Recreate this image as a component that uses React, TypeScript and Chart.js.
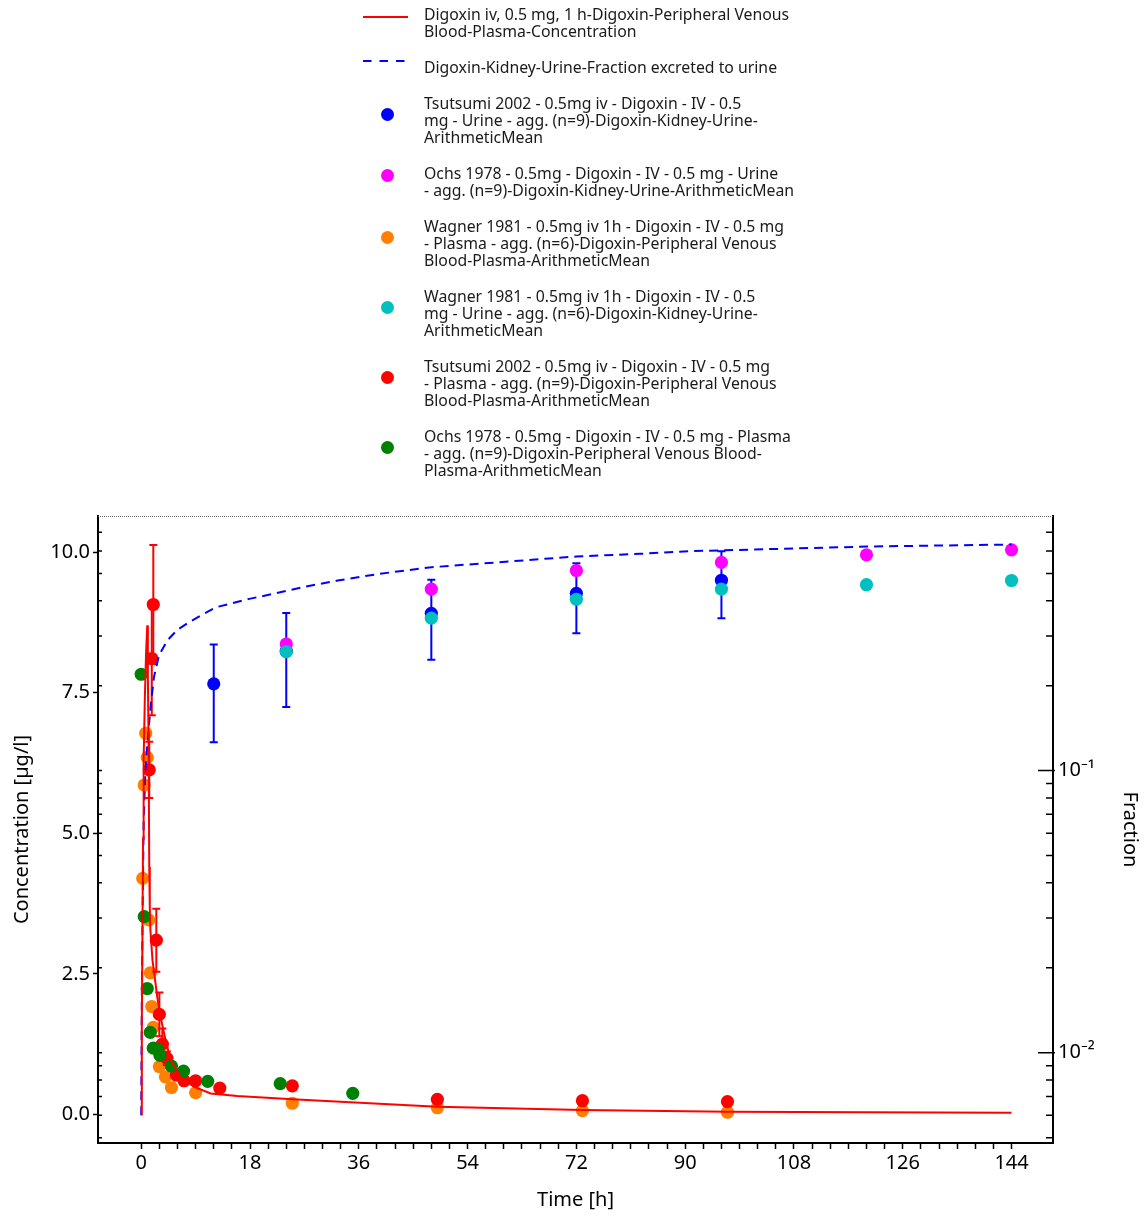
import React, { useEffect, useRef } from 'react';
import { Chart, registerables } from 'chart.js';

Chart.register(...registerables);

// ---------- axis ticks ----------
const X_TICKS = [0, 3, 6, 9, 12, 15, 18, 21, 24, 27, 30, 33, 36, 39, 42, 45, 48, 51, 54, 57, 60, 63, 66, 69, 72, 75, 78, 81, 84, 87, 90, 93, 96, 99, 102, 105, 108, 111, 114, 117, 120, 123, 126, 129, 132, 135, 138, 141, 144];
const X_LABELS = [0, 18, 36, 54, 72, 90, 108, 126, 144];
const CONC_TICKS = [0, 2.5, 5, 7.5, 10];
const FRACTION_TICKS = [0.005, 0.006, 0.007, 0.008, 0.009, 0.01, 0.02, 0.03, 0.04, 0.05, 0.06, 0.07, 0.08, 0.09, 0.1, 0.2, 0.3, 0.4, 0.5, 0.6, 0.7];
const FRACTION_MAJOR = [0.01, 0.1];
const FRACTION_LABELS = ['10⁻²', '10⁻¹'];

// ---------- simulations ----------
const SIM_PLASMA_T = [0, 0.1, 0.2, 0.3, 0.4, 0.6, 0.8, 1.0, 1.1, 1.2, 1.27, 1.33, 1.42, 1.52, 1.87, 2.1, 2.65, 3.2, 4.04, 4.87, 6.55, 8.77, 11.5, 15.9, 25, 49, 73, 97, 120, 144];
const SIM_PLASMA_C = [0, 1.6, 3.1, 4.9, 6.3, 7.4, 8.2, 8.7, 7.8, 6.8, 5.6, 4.4, 3.7, 3.28, 2.74, 2.56, 2.09, 1.73, 1.32, 0.97, 0.66, 0.49, 0.375, 0.33, 0.27, 0.139, 0.08, 0.05, 0.04, 0.03];

const SIM_FRACTION_T = [0, 0.1, 0.25, 0.41, 0.71, 1.11, 1.54, 2.1, 2.93, 4.3, 5.97, 7.9, 9.83, 12.4, 17.9, 22.3, 27.3, 32.5, 39.4, 48, 72, 82.5, 90.8, 120, 144];
const SIM_FRACTION_F = [0.006, 0.0153, 0.0346, 0.0665, 0.1027, 0.1312, 0.1677, 0.2142, 0.2557, 0.2891, 0.3155, 0.3357, 0.3545, 0.3795, 0.4063, 0.4253, 0.4493, 0.4719, 0.4983, 0.5259, 0.5741, 0.5868, 0.5994, 0.6227, 0.633];

// ---------- observed ----------
const TSU_URINE_T = [12, 24, 48, 72, 96];
const TSU_URINE_F = [0.203, 0.265, 0.361, 0.425, 0.473];
const TSU_URINE_SD = [0.077, 0.097, 0.114, 0.118, 0.126];

const OCHS_URINE_T = [24, 48, 72, 96, 120, 144];
const OCHS_URINE_F = [0.281, 0.44, 0.512, 0.547, 0.582, 0.606];

const WAG_PLASMA_T = [0.25, 0.5, 0.75, 1, 1.25, 1.5, 1.75, 2, 3, 4, 5, 9, 25, 49, 73, 97];
const WAG_PLASMA_C = [4.2, 5.86, 6.78, 6.35, 3.46, 2.52, 1.92, 1.55, 0.85, 0.67, 0.48, 0.39, 0.2, 0.12, 0.07, 0.04];

const WAG_URINE_T = [24, 48, 72, 96, 120, 144];
const WAG_URINE_F = [0.264, 0.347, 0.405, 0.44, 0.456, 0.472];

const TSU_PLASMA_T = [1.33, 1.75, 2, 2.5, 3, 3.5, 4.25, 5.83, 7.08, 9, 13, 25, 49, 73, 97];
const TSU_PLASMA_C = [6.13, 8.11, 9.07, 3.1, 1.78, 1.25, 1.0, 0.7, 0.6, 0.6, 0.47, 0.51, 0.27, 0.245, 0.23];
const TSU_PLASMA_SD = [0.5, 1.01, 1.06, 0.56, 0.39, 0.28, 0.12, 0.08, 0.06, 0.06, 0.05, 0.05, 0.04, 0.04, 0.04];

const OCHS_PLASMA_T = [0, 0.5, 1, 1.5, 2, 2.75, 3.1, 5, 7, 11, 23, 35];
const OCHS_PLASMA_C = [7.83, 3.52, 2.24, 1.46, 1.18, 1.16, 1.05, 0.86, 0.77, 0.59, 0.55, 0.377];

// ---------- legend ----------
const LEGEND_LABELS = [
  'Digoxin iv, 0.5 mg, 1 h-Digoxin-Peripheral Venous\nBlood-Plasma-Concentration',
  'Digoxin-Kidney-Urine-Fraction excreted to urine',
  'Tsutsumi 2002 - 0.5mg iv - Digoxin - IV - 0.5\nmg - Urine - agg. (n=9)-Digoxin-Kidney-Urine-\nArithmeticMean',
  'Ochs 1978 - 0.5mg - Digoxin - IV - 0.5 mg - Urine\n- agg. (n=9)-Digoxin-Kidney-Urine-ArithmeticMean',
  'Wagner 1981 - 0.5mg iv 1h - Digoxin - IV - 0.5 mg\n- Plasma - agg. (n=6)-Digoxin-Peripheral Venous\nBlood-Plasma-ArithmeticMean',
  'Wagner 1981 - 0.5mg iv 1h - Digoxin - IV - 0.5\nmg - Urine - agg. (n=6)-Digoxin-Kidney-Urine-\nArithmeticMean',
  'Tsutsumi 2002 - 0.5mg iv - Digoxin - IV - 0.5 mg\n- Plasma - agg. (n=9)-Digoxin-Peripheral Venous\nBlood-Plasma-ArithmeticMean',
  'Ochs 1978 - 0.5mg - Digoxin - IV - 0.5 mg - Plasma\n- agg. (n=9)-Digoxin-Peripheral Venous Blood-\nPlasma-ArithmeticMean',
];
const LEGEND_KINDS = ['line', 'dash', 'dot', 'dot', 'dot', 'dot', 'dot', 'dot'];
const COLORS = ['#ff0000', '#0000ff', '#0000ff', '#ff00ff', '#ff8000', '#00bfbf', '#ff0000', '#008000'];

const FONT = "'Noto Sans', sans-serif";

const pts = (xs: number[], ys: number[]) => xs.map((x, i) => ({ x, y: ys[i] }));

const errorBarPlugin = {
  id: 'errorBars',
  beforeDatasetDraw(chart: any, args: any) {
    const ds = chart.data.datasets[args.index];
    if (!ds.errors) return;
    const ctx = chart.ctx;
    const a = chart.chartArea;
    const xs = chart.scales.x;
    const ys = chart.scales[ds.yAxisID];
    ctx.save();
    ctx.beginPath();
    ctx.rect(a.left, a.top, a.right - a.left, a.bottom - a.top);
    ctx.clip();
    ctx.strokeStyle = ds.backgroundColor;
    ctx.lineWidth = 2;
    ds.data.forEach((p: any, i: number) => {
      const e = ds.errors[i];
      if (!e) return;
      const x = xs.getPixelForValue(p.x);
      const yTop = ys.getPixelForValue(p.y + e);
      const yBot = ys.getPixelForValue(p.y - e);
      ctx.beginPath();
      ctx.moveTo(x, yBot);
      ctx.lineTo(x, yTop);
      ctx.moveTo(x - 4, yBot);
      ctx.lineTo(x + 4, yBot);
      ctx.moveTo(x - 4, yTop);
      ctx.lineTo(x + 4, yTop);
      ctx.stroke();
    });
    ctx.restore();
  },
};

const decorPlugin = {
  id: 'decor',
  afterDraw(chart: any) {
    const ctx = chart.ctx;
    const a = chart.chartArea;
    const y2 = chart.scales.y2;
    ctx.save();
    ctx.strokeStyle = '#666';
    ctx.lineWidth = 1;
    ctx.setLineDash([1, 1]);
    ctx.beginPath();
    ctx.moveTo(a.left, a.top + 0.5);
    ctx.lineTo(a.right, a.top + 0.5);
    ctx.stroke();
    ctx.setLineDash([]);
    ctx.strokeStyle = '#000';
    ctx.lineWidth = 1.5;
    FRACTION_TICKS.forEach((v) => {
      const y = y2.getPixelForValue(v);
      const major = FRACTION_MAJOR.some((m) => Math.abs(m - v) < 1e-9);
      ctx.beginPath();
      ctx.moveTo(a.right - (major ? 15 : 7), y);
      ctx.lineTo(a.right + (major ? 2 : 0), y);
      ctx.moveTo(a.left, y);
      ctx.lineTo(a.left + 4, y);
      ctx.stroke();
    });
    ctx.restore();
  },
};

function markerSet(label: string, xs: number[], ys: number[], color: string, axis: string, order: number, errors?: number[]) {
  return {
    label,
    data: pts(xs, ys),
    yAxisID: axis,
    order,
    showLine: false,
    pointRadius: 6.6,
    pointBorderWidth: 0,
    backgroundColor: color,
    borderColor: color,
    pointStyle: 'circle',
    errors,
  };
}

export default function App() {
  const ref = useRef<HTMLCanvasElement>(null);

  useEffect(() => {
    Chart.defaults.font.family = FONT;
    Chart.defaults.color = '#000';
    const datasets: any[] = [
      {
        label: LEGEND_LABELS[0],
        data: pts(SIM_PLASMA_T, SIM_PLASMA_C),
        yAxisID: 'y',
        order: 0,
        showLine: true,
        borderColor: COLORS[0],
        backgroundColor: COLORS[0],
        borderWidth: 2,
        pointRadius: 0,
        tension: 0,
      },
      {
        label: LEGEND_LABELS[1],
        data: pts(SIM_FRACTION_T, SIM_FRACTION_F),
        yAxisID: 'y2',
        order: 0,
        showLine: true,
        borderColor: COLORS[1],
        backgroundColor: COLORS[1],
        borderWidth: 2,
        borderDash: [9, 6],
        pointRadius: 0,
        tension: 0,
      },
      markerSet(LEGEND_LABELS[2], TSU_URINE_T, TSU_URINE_F, COLORS[2], 'y2', 6, TSU_URINE_SD),
      markerSet(LEGEND_LABELS[3], OCHS_URINE_T, OCHS_URINE_F, COLORS[3], 'y2', 5),
      markerSet(LEGEND_LABELS[4], WAG_PLASMA_T, WAG_PLASMA_C, COLORS[4], 'y', 4),
      markerSet(LEGEND_LABELS[5], WAG_URINE_T, WAG_URINE_F, COLORS[5], 'y2', 3),
      markerSet(LEGEND_LABELS[6], TSU_PLASMA_T, TSU_PLASMA_C, COLORS[6], 'y', 2, TSU_PLASMA_SD),
      markerSet(LEGEND_LABELS[7], OCHS_PLASMA_T, OCHS_PLASMA_C, COLORS[7], 'y', 1),
    ];

    const chart = new Chart(ref.current as HTMLCanvasElement, {
      type: 'scatter',
      data: { datasets },
      plugins: [errorBarPlugin, decorPlugin],
      options: {
        responsive: false,
        animation: false,
        events: [],
        layout: { padding: { top: 516, left: 0, right: 0, bottom: 0 } },
        plugins: { legend: { display: false }, tooltip: { enabled: false } },
        scales: {
          x: {
            type: 'linear',
            position: 'bottom',
            min: -7.15,
            max: 150.86,
            afterBuildTicks: (s: any) => {
              s.ticks = X_TICKS.map((v) => ({ value: v }));
            },
            afterFit: (s: any) => {
              s.height = 73;
            },
            ticks: {
              autoSkip: false,
              maxRotation: 0,
              padding: 2,
              font: { size: 20, family: FONT },
              color: '#000',
              callback: (v: any) => (X_LABELS.includes(Number(v)) ? String(v) : ''),
            },
            grid: { drawOnChartArea: false, drawTicks: true, tickLength: 6, tickColor: '#000', tickWidth: 1.5, color: '#000' },
            border: { display: true, color: '#000', width: 2 },
            title: { display: true, text: 'Time [h]', font: { size: 20, family: FONT }, color: '#000', padding: { top: 0, bottom: 4 } },
          },
          y: {
            type: 'linear',
            position: 'left',
            min: -0.507,
            max: 10.644,
            afterBuildTicks: (s: any) => {
              s.ticks = CONC_TICKS.map((v) => ({ value: v }));
            },
            afterFit: (s: any) => {
              s.width = 98;
            },
            ticks: {
              padding: 3,
              font: { size: 20, family: FONT },
              color: '#000',
              callback: (v: any) => Number(v).toFixed(1),
            },
            grid: { drawOnChartArea: false, drawTicks: true, tickLength: 5, tickColor: '#000', tickWidth: 1.5, color: '#000' },
            border: { display: true, color: '#000', width: 2 },
            title: { display: true, text: 'Concentration [µg/l]', font: { size: 20, family: FONT }, color: '#000', padding: { top: 10, bottom: 0 } },
          },
          y2: {
            type: 'logarithmic',
            position: 'right',
            min: 0.004786,
            max: 0.799,
            afterBuildTicks: (s: any) => {
              s.ticks = FRACTION_TICKS.map((v) => ({ value: v }));
            },
            afterFit: (s: any) => {
              s.width = 95;
            },
            ticks: {
              autoSkip: false,
              padding: 5,
              font: { size: 20, family: FONT },
              color: '#000',
              callback: (v: any) => {
                const idx = FRACTION_MAJOR.findIndex((m) => Math.abs(m - Number(v)) < 1e-9);
                return idx >= 0 ? FRACTION_LABELS[idx] : '';
              },
            },
            grid: { drawOnChartArea: false, drawTicks: false, color: '#000' },
            border: { display: true, color: '#000', width: 2 },
            title: { display: true, text: 'Fraction', font: { size: 20, family: FONT }, color: '#000', padding: { top: 6, bottom: 0 } },
          },
        },
      } as any,
    } as any);
    return () => chart.destroy();
  }, []);

  return (
    <div style={{ position: 'absolute', left: 0, top: 0, width: 1148, height: 1216, background: '#fff' }}>
      <canvas ref={ref} width={1148} height={1216} style={{ position: 'absolute', left: 0, top: 0, width: 1148, height: 1216 }} />
      <div style={{ position: 'absolute', left: 0, top: 6, width: 900, fontFamily: FONT, fontSize: 15.8, lineHeight: '17px', color: '#1a1a1a' }}>
        {LEGEND_LABELS.map((label, i) => {
          const lines = label.split('\n').length;
          const h = lines * 17;
          const cy = h / 2 - 6.5;
          const kind = LEGEND_KINDS[i];
          return (
            <div key={i} style={{ position: 'relative', height: h, marginBottom: 19 }}>
              {kind === 'dot' ? (
                <div style={{ position: 'absolute', left: 380.5, top: cy - 6.5, width: 13, height: 13, borderRadius: '50%', background: COLORS[i] }} />
              ) : (
                <svg style={{ position: 'absolute', left: 363, top: cy - 5 }} width={46} height={10}>
                  <line x1={0} y1={5} x2={45} y2={5} stroke={COLORS[i]} strokeWidth={2} strokeDasharray={kind === 'dash' ? '8.5 8' : undefined} />
                </svg>
              )}
              <div style={{ position: 'absolute', left: 424, top: 0, whiteSpace: 'pre' }}>{label}</div>
            </div>
          );
        })}
      </div>
    </div>
  );
}
